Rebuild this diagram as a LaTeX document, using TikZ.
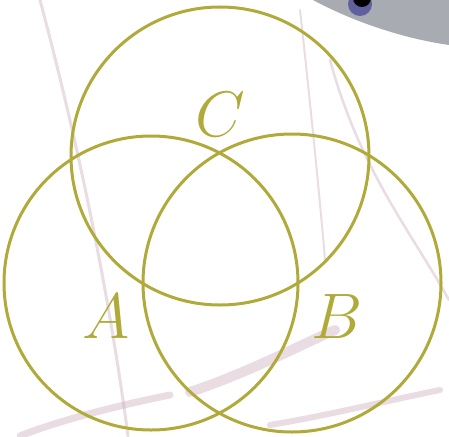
\documentclass[tikz,border=0pt]{standalone}
\usepackage{graphicx}
\begin{document}
\begin{tikzpicture}[x=1pt,y=-1pt,
  ring/.style={draw=olv, line width=3pt},
  lbl/.style={text=olv, inner sep=0pt},
  smudge/.style={draw=pinkish, opacity=0.4, line cap=round}]
\definecolor{olv}{RGB}{176,170,58}
\definecolor{pinkish}{RGB}{200,170,185}
\definecolor{grayc}{RGB}{168,171,178}
\useasboundingbox (0,0) rectangle (449,436);
\fill[white] (0,0) rectangle (449,436);
% background smudges
\draw[smudge, line width=3pt] (40,0) .. controls (80,150) and (110,300) .. (128,436);
\draw[smudge, line width=2.5pt] (330,60) .. controls (360,170) and (410,230) .. (449,300);
\draw[smudge, line width=2pt] (300,10) .. controls (310,100) and (320,200) .. (325,260);
\draw[smudge, line width=10pt] (190,392) .. controls (250,372) and (300,345) .. (335,330);
\draw[smudge, line width=7pt] (20,436) .. controls (60,420) and (120,405) .. (170,395);
\draw[smudge, line width=6pt] (270,425) .. controls (330,415) and (390,400) .. (440,390);
% gray corner
\fill[grayc] (313,0) .. controls (350,20) and (400,38) .. (449,45) -- (449,0) -- cycle;
\fill[blue!25!gray] (360,4) circle (12);
\fill[black] (362,-2) circle (9);
% circles
\node[ring, circle, minimum size=298pt, inner sep=0pt] (C) at (220,156) {};
\node[ring, circle, minimum size=294pt, inner sep=0pt] (A) at (151,283) {};
\node[ring, circle, minimum size=298pt, inner sep=0pt] (B) at (292,283) {};
% labels
\node[lbl] (lc) at (220,115) {\scalebox{3.1}{\huge $C$}};
\node[lbl] (la) at (106,317) {\scalebox{3.1}{\huge $A$}};
\node[lbl] (lb) at (337,317) {\scalebox{3.1}{\huge $B$}};
\end{tikzpicture}
\end{document}
